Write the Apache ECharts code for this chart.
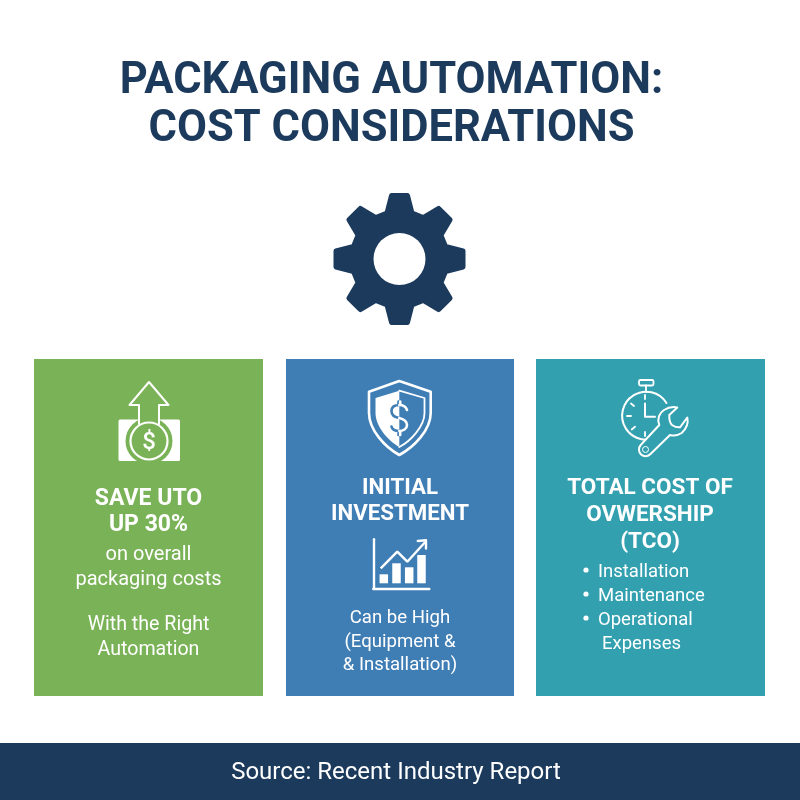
<!DOCTYPE html>
<html><head><meta charset="utf-8">
<style>html,body{margin:0;padding:0;background:#fff}#c{width:800px;height:800px}</style>
<script src="https://cdn.jsdelivr.net/npm/echarts@6/dist/echarts.min.js"></script>
</head><body><div id="c"></div>
<script>
const titleLines = ['PACKAGING AUTOMATION:', 'COST CONSIDERATIONS'];
const sourceText = 'Source: Recent Industry Report';
const greenHeading = ['SAVE UTO', 'UP 30%'];
const greenBody = ['on overall', 'packaging costs'];
const greenFoot = ['With the Right', 'Automation'];
const blueHeading = ['INITIAL', 'INVESTMENT'];
const blueBody = ['Can be High', '(Equipment &', '& Installation)'];
const tealHeading = ['TOTAL COST OF', 'OVWERSHIP', '(TCO)'];
const tealBullets = ['Installation', 'Maintenance', 'Operational'];
const tealTail = 'Expenses';
const iconBars = [[10.5, 9], [23.2, 20], [35.9, 16], [48.2, 28.3]];
const iconLine = [[7.4, 15], [24, 31.6], [34, 21.6], [51.7, 41]];

const NAVY = '#1c3a5c', GREEN = '#7ab257', BLUE = '#3f7db5', TEAL = '#33a0b0', W = '#ffffff';
const FONT = 'Roboto';
const g = [];
let pathId = 0;
function txt(s, x, y, size, weight, fill, align) {
  g.push({type:'text', z:5, style:{text:s, x, y, fill, font:`${weight} ${size}px ${FONT}`, align:align||'center', verticalAlign:'middle'}});
}
function lines(arr, x, ys, size, weight, fill) { arr.forEach((s,i)=>txt(s,x,ys[i],size,weight,fill)); }
function rect(x,y,w,h,fill,r){ g.push({type:'rect', z:1, shape:{x,y,width:w,height:h,r:r||0}, style:{fill}}); }
function path(d, stroke, lw, fill, z){
  const name = 'iconPath' + (pathId++);
  echarts.graphic.registerShape(name, echarts.graphic.extendPath(d, {}));
  g.push({type:name, z:z||3, style:{stroke:stroke||null, lineWidth:lw||0, fill:fill||null, lineJoin:'round', lineCap:'round'}});
}
function circle(cx,cy,r,fill,stroke,lw,z){ g.push({type:'circle', z:z||3, shape:{cx,cy,r}, style:{fill:fill||null, stroke:stroke||null, lineWidth:lw||0}}); }

// panels
rect(34,359,229,337,GREEN); rect(286,359,228,337,BLUE); rect(536,359,229,337,TEAL); rect(0,743,800,57,NAVY);

// title
lines(titleLines, 391.5, [82,130.5], 43.5, 700, NAVY);

// gear
(function(){
  const cx=399.5, cy=259, ro=63.5, rr=46, n=8;
  const pts=[];
  for(let i=0;i<n;i++){
    const a=-Math.PI/2+i*2*Math.PI/n;
    const pa=(r,off)=>[cx+r*Math.cos(a)+off*-Math.sin(a), cy+r*Math.sin(a)+off*Math.cos(a)];
    pts.push(pa(rr,-12.5), pa(ro,-8), pa(ro,8), pa(rr,12.5));
  }
  const d='M'+pts.map(p=>p[0].toFixed(1)+' '+p[1].toFixed(1)).join('L')+'Z';
  path(d,NAVY,5,NAVY);
  circle(cx,cy,26,W);
})();

// green icon
path('M149 382L129.5 405H139V424H159V405H168.5Z',W,2,null);
rect(118.5,419.5,61.5,41.5,W,1.5); g[g.length-1].z=3;
circle(149,441,23.5,GREEN,null,0,4);
circle(149,441,18.5,null,W,2.2,4);
path('M139 424V418M159 424V418',W,2,null,4);
txt('$',149,443,24,500,W);

// blue icon
path('M399.3 381L369 391.7V413C369 430 385 447 399.3 455C414 447 430.7 430 430.7 413V391.7Z',W,2.6,null);
path('M399.3 390.7L375.5 398V413C375.5 426 388 441 399.3 447Z',null,0,W);
path('M399.3 390.7L424.5 398V413C424.5 426 411 441 399.3 447',W,1.8,null);
path('M399.3 405C393 405 391.5 408 391.5 411C391.5 416 396 417.5 399.3 418M399.3 431C395 431 392 429 391.5 426.5M398.5 401.5V405M398.5 431V435',BLUE,2.6,null,4);
path('M407 410C406 407 403 405 399.3 405M399.3 418C403 419 407 421 407 425C407 429 403 431 399.3 431M400.2 401.5V405M400.2 431V435',W,2.6,null,4);

// blue mini chart arrowhead
path('M417.7 541L426 540.2L426 548.5',W,2.4,null,7);

// teal icon
path('M666.5 403A24 24 0 1 0 651 439.2',W,2,null);
g.push({type:'rect', z:3, shape:{x:639,y:380,width:14.5,height:5.5,r:1.5}, style:{fill:null,stroke:W,lineWidth:1.8}});
path('M646 385.5V392',W,1.8,null);
path('M645 403.5V416.7H655',W,2,null);
path('M645 395V399M627 416H631M645 432V436M631 403.5L634 406M631.7 429.5L635 426.7',W,1.8,null);
path('M640.7 445L659.3 425C657 419 659 413 664 410C668 407.5 673 406.5 677.3 407.5L669.3 415C669 420 670 423 672 425C675 427 678 427.5 680 427.3L687.3 417.5C688.5 423 686 429 681.7 433C677 436 673 436 670 435L650.5 454A6.3 6.3 0 0 1 640.7 445Z',W,2,TEAL,4);
circle(645.5,449.5,3,null,W,1,4);

// panel text
lines(greenHeading,148.5,[499,525],23,700,W);
lines(greenBody,148.5,[555,580],20,400,W);
lines(greenFoot,148.5,[625,650],19.6,400,W);
lines(blueHeading,400,[488,514],22.3,700,W);
lines(blueBody,400,[618,642,665],18.6,400,W);
lines(tealHeading,650,[488,515,542],22.5,700,W);
tealBullets.forEach((s,i)=>{
  const y=[570,594,618][i];
  circle(586,y,2.6,W,null,0,5);
  txt(s,598,y+2,18.5,400,W,'left');
});
txt(tealTail,602,644,18.5,400,W,'left');
// source
txt(sourceText,396,773,24,400,W);

const chart = echarts.init(document.getElementById('c'), null, {renderer:'canvas'});
const axisCommon = {type:'value', z:6, splitLine:{show:false}, axisTick:{show:false}, axisLabel:{show:false},
  axisLine:{show:true, onZero:false, lineStyle:{color:W,width:2.4}}};
chart.setOption({
  animation:false,
  backgroundColor:'#ffffff',
  grid:{left:373.3, top:539.3, width:56, height:49, containLabel:false, z:6},
  xAxis:Object.assign({min:0, max:56}, axisCommon),
  yAxis:Object.assign({min:-5, max:44}, axisCommon),
  series:[
    {type:'bar', data:iconBars, barWidth:8.5, itemStyle:{color:W}, z:6, silent:true},
    {type:'line', data:iconLine, symbol:'none', lineStyle:{color:W,width:2.4}, z:6, silent:true}
  ],
  graphic:{elements:g}
});
</script></body></html>
